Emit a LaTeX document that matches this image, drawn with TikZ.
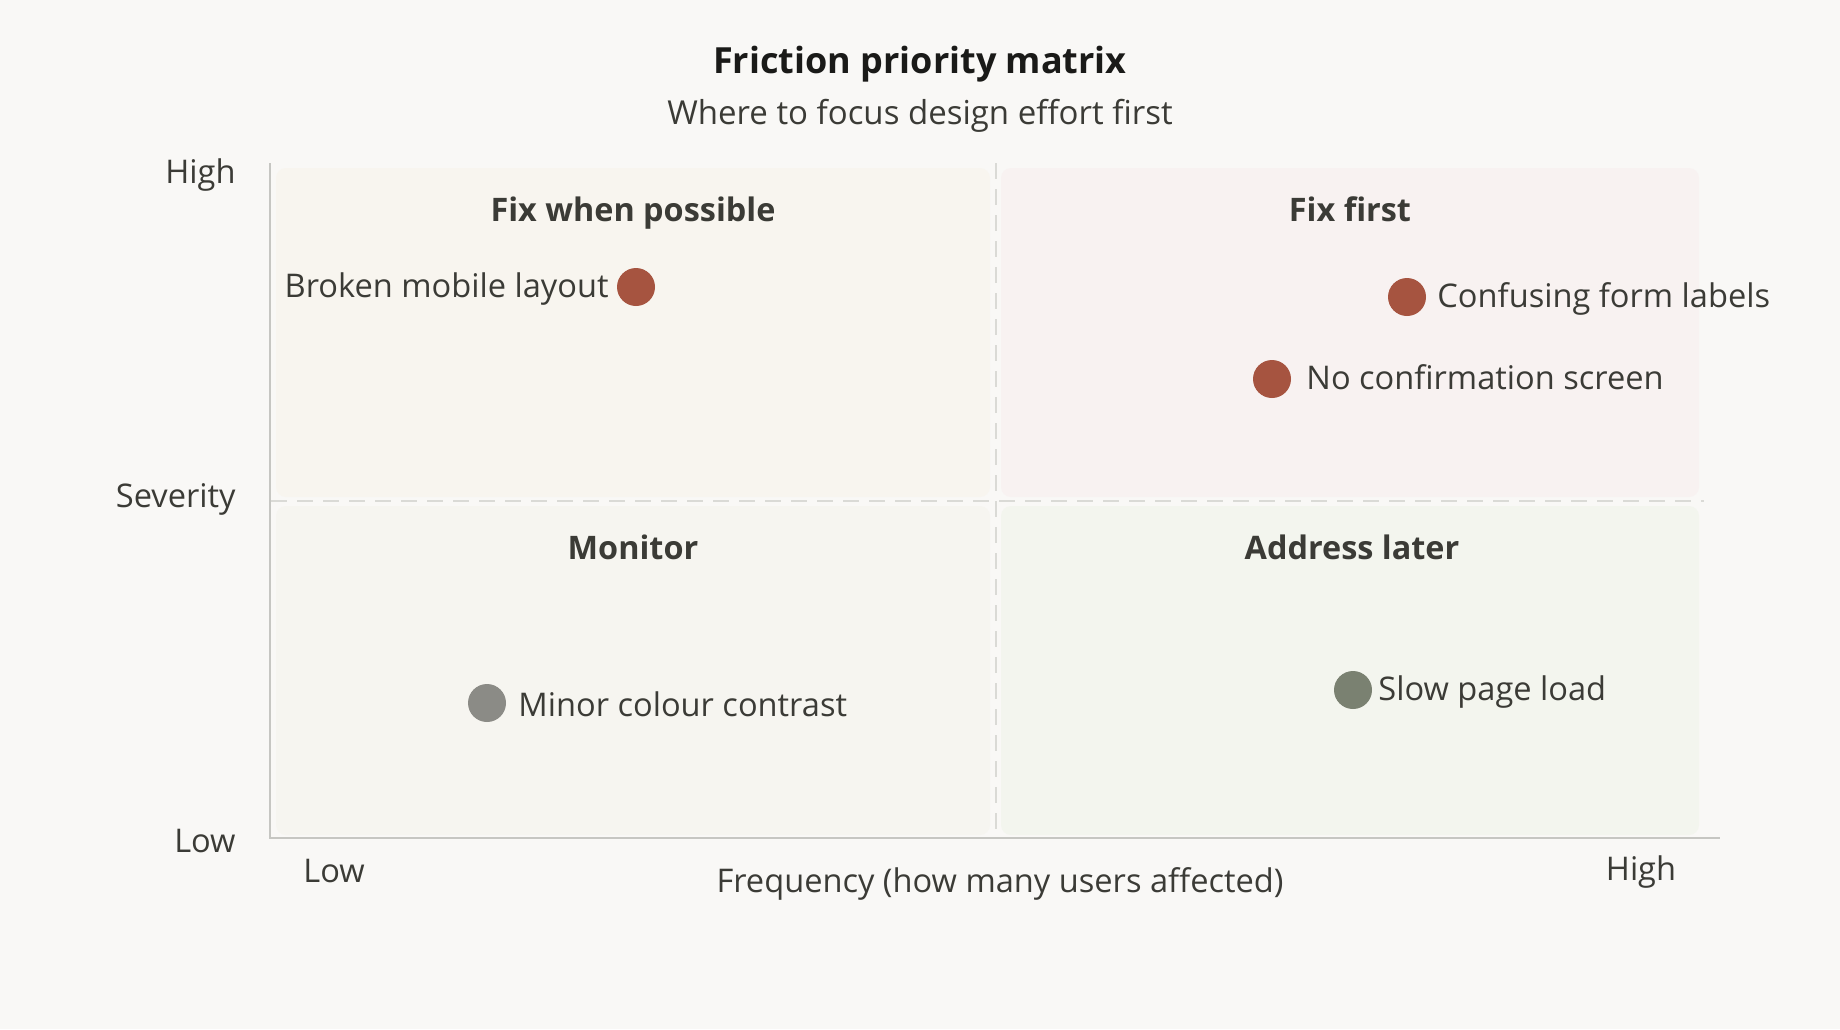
\documentclass[tikz,border=0pt]{standalone}
\usepackage{fontspec}
\setmainfont{Open Sans}
\definecolor{bgc}{HTML}{F9F8F6}
\definecolor{qtl}{HTML}{F8F5EF}
\definecolor{qtr}{HTML}{F8F2F1}
\definecolor{qbl}{HTML}{F6F5F0}
\definecolor{qbr}{HTML}{F3F5EE}
\definecolor{ink}{HTML}{3B3B36}
\definecolor{titleink}{HTML}{1A1A18}
\definecolor{axisc}{HTML}{C6C6C2}
\definecolor{dashc}{HTML}{DADAD6}
\definecolor{dotred}{HTML}{A65440}
\definecolor{dotgray}{HTML}{8B8B86}
\definecolor{dotgreen}{HTML}{7A8171}
\tikzset{
  lbl/.style={inner sep=0pt, text=ink, font=\fontsize{16.3pt}{20pt}\selectfont},
  quadhead/.style={inner sep=0pt, text=ink, font=\fontsize{16.2pt}{19pt}\selectfont\bfseries, anchor=base},
  dotmark/.style={circle, inner sep=0pt, minimum size=19pt, draw=none},
  quadbox/.style={rounded corners=5pt, draw=none},
  axisline/.style={draw=axisc, line width=1pt},
  gridline/.style={draw=dashc, line width=1pt, dash pattern=on 8pt off 5pt},
}
\begin{document}
\begin{tikzpicture}[x=0.5pt,y=-0.5pt]
\useasboundingbox (0,0) rectangle (1840,1029);
\fill[bgc] (0,0) rectangle (1840,1029);

% title
\node[inner sep=0pt, anchor=base, text=titleink, font=\fontsize{18pt}{22pt}\selectfont\bfseries] (title) at (920,73) {Friction priority matrix};
\node[inner sep=0pt, anchor=base, text=ink, font=\fontsize{16.5pt}{20pt}\selectfont] (subtitle) at (920,124) {Where to focus design effort first};

% quadrants
\fill[qtl, quadbox] (276,168) rectangle (990,497);
\fill[qtr, quadbox] (1001,168) rectangle (1699,497);
\fill[qbl, quadbox] (276,506) rectangle (990,835);
\fill[qbr, quadbox] (1001,506) rectangle (1699,835);

% grid lines
\coordinate (vtop) at (996,163);
\coordinate (vbot) at (996,838);
\coordinate (hleft) at (271,501);
\coordinate (hright) at (1704,501);
\draw[gridline] (vtop) -- (vbot);
\draw[gridline] (hleft) -- (hright);

% axes
\coordinate (ytop) at (270,163);
\coordinate (origin) at (270,838);
\coordinate (xend) at (1720,838);
\draw[axisline] (ytop) -- (origin) -- (xend);

% quadrant headings
\node[quadhead] (hTL) at (633,221) {Fix when possible};
\node[quadhead] (hTR) at (1350,221) {Fix first};
\node[quadhead] (hBL) at (633,559) {Monitor};
\node[quadhead] (hBR) at (1352,559) {Address later};

% dots
\node[dotmark, fill=dotred] (d1) at (636,287) {};
\node[dotmark, fill=dotred] (d2) at (1407,297) {};
\node[dotmark, fill=dotred] (d3) at (1272,379) {};
\node[dotmark, fill=dotgray] (d4) at (487,703) {};
\node[dotmark, fill=dotgreen] (d5) at (1353,690) {};

% dot labels
\node[lbl, anchor=base east] (t1) at (609,297) {Broken mobile layout};
\node[lbl, anchor=base west] (t2) at (1437,307) {Confusing form labels};
\node[lbl, anchor=base west] (t3) at (1306,389) {No confirmation screen};
\node[lbl, anchor=base west] (t4) at (518,716) {Minor colour contrast};
\node[lbl, anchor=base west] (t5) at (1378,700) {Slow page load};

% axis labels
\node[lbl, anchor=base east] (yhigh) at (236,183) {High};
\node[lbl, anchor=base east] (ysev) at (236,507) {Severity};
\node[lbl, anchor=base east] (ylow) at (236,852) {Low};
\node[lbl, anchor=base] (xlow) at (334,882) {Low};
\node[lbl, anchor=base] (xfreq) at (1000,892) {Frequency (how many users affected)};
\node[lbl, anchor=base] (xhigh) at (1641,880) {High};
\end{tikzpicture}
\end{document}
